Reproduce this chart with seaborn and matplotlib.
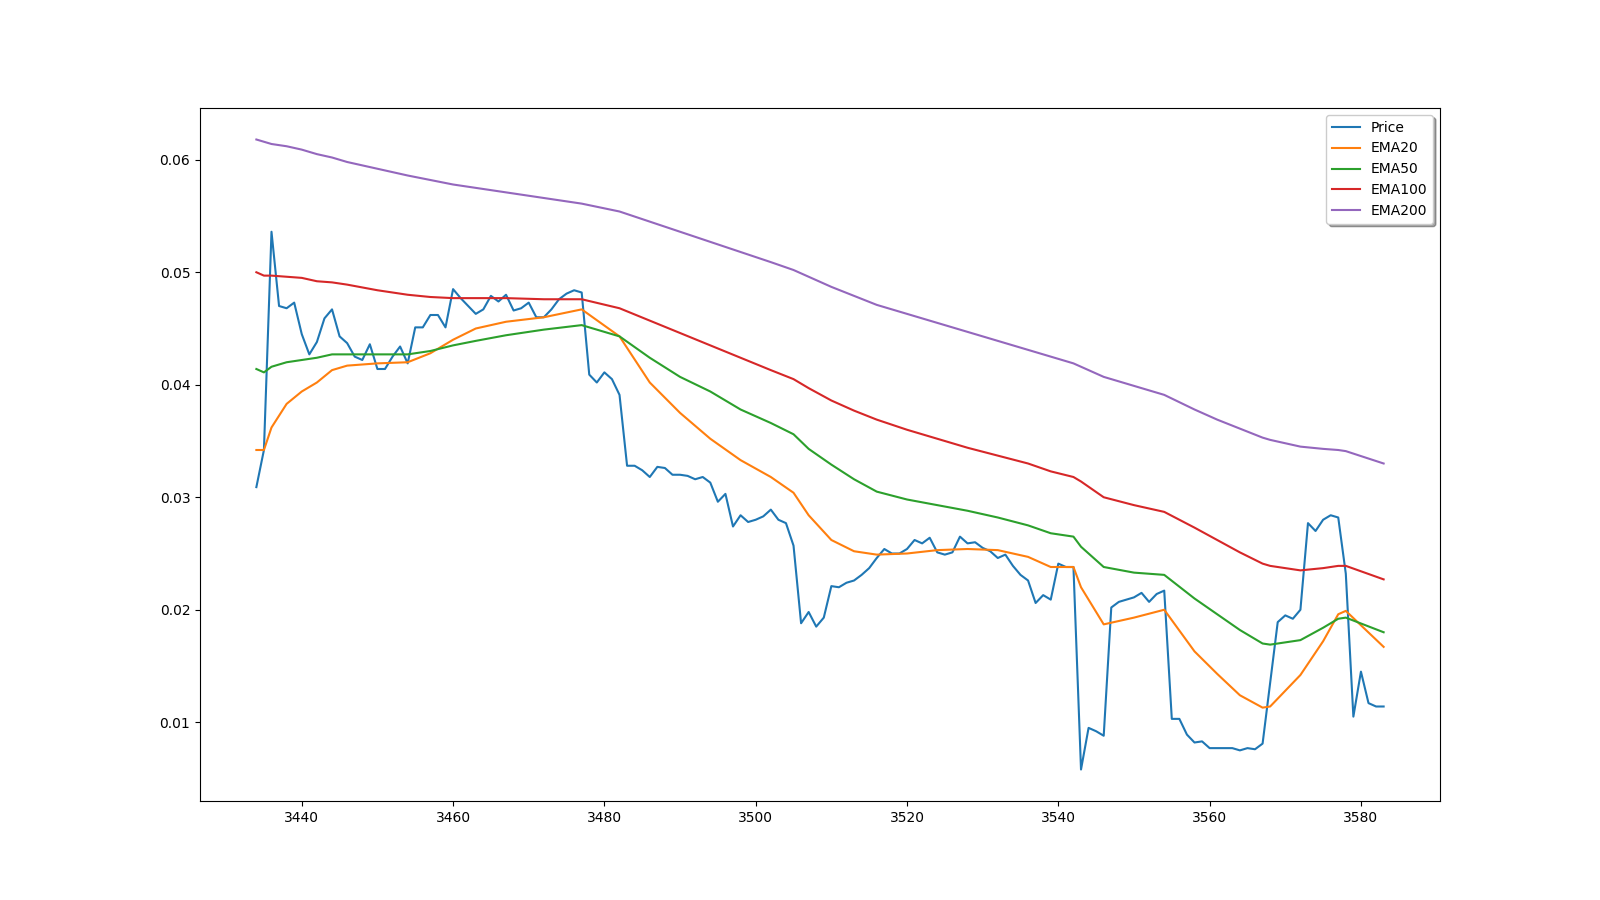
import numpy as np
import pandas as pd
import matplotlib
matplotlib.use("Agg")
import matplotlib.pyplot as plt
import seaborn as sns

# ---- Data ----
price_x = list(range(3434, 3584))
price = [
    0.0309, 0.0342, 0.0536, 0.0470, 0.0468, 0.0473, 0.0445, 0.0427, 0.0438, 0.0459,
    0.0467, 0.0443, 0.0437, 0.0425, 0.0422, 0.0436, 0.0414, 0.0414, 0.0425, 0.0434,
    0.0419, 0.0451, 0.0451, 0.0462, 0.0462, 0.0451, 0.0485, 0.0477, 0.0470, 0.0463,
    0.0467, 0.0479, 0.0474, 0.0480, 0.0466, 0.0468, 0.0473, 0.0460, 0.0460, 0.0467,
    0.0476, 0.0481, 0.0484, 0.0482, 0.0409, 0.0402, 0.0411, 0.0405, 0.0391, 0.0328,
    0.0328, 0.0324, 0.0318, 0.0327, 0.0326, 0.0320, 0.0320, 0.0319, 0.0316, 0.0318,
    0.0313, 0.0296, 0.0303, 0.0274, 0.0284, 0.0278, 0.0280, 0.0283, 0.0289, 0.0280,
    0.0277, 0.0257, 0.0188, 0.0198, 0.0185, 0.0193, 0.0221, 0.0220, 0.0224, 0.0226,
    0.0231, 0.0237, 0.0246, 0.0254, 0.0250, 0.0250, 0.0254, 0.0262, 0.0259, 0.0264,
    0.0251, 0.0249, 0.0251, 0.0265, 0.0259, 0.0260, 0.0255, 0.0252, 0.0246, 0.0249,
    0.0239, 0.0231, 0.0226, 0.0206, 0.0213, 0.0209, 0.0241, 0.0238, 0.0238, 0.0058,
    0.0095, 0.0092, 0.0088, 0.0202, 0.0207, 0.0209, 0.0211, 0.0215, 0.0207, 0.0214,
    0.0217, 0.0103, 0.0103, 0.0089, 0.0082, 0.0083, 0.0077, 0.0077, 0.0077, 0.0077,
    0.0075, 0.0077, 0.0076, 0.0081, 0.0135, 0.0189, 0.0195, 0.0192, 0.0200, 0.0277,
    0.0270, 0.0280, 0.0284, 0.0282, 0.0232, 0.0105, 0.0145, 0.0117, 0.0114, 0.0114,
]

ema_x = [3434, 3435, 3436, 3438, 3440, 3442, 3444, 3446, 3450, 3454, 3457, 3460,
         3463, 3467, 3472, 3477, 3482, 3486, 3490, 3494, 3498, 3502, 3505, 3507,
         3510, 3513, 3516, 3520, 3524, 3528, 3532, 3536, 3539, 3542, 3543, 3546,
         3550, 3554, 3558, 3561, 3564, 3567, 3568, 3572, 3575, 3577, 3578, 3583]

ema20 = [0.0342, 0.0342, 0.0362, 0.0383, 0.0394, 0.0402, 0.0413, 0.0417, 0.0419, 0.0420,
         0.0428, 0.0440, 0.0450, 0.0456, 0.0460, 0.0467, 0.0443, 0.0402, 0.0375, 0.0352,
         0.0333, 0.0318, 0.0304, 0.0284, 0.0262, 0.0252, 0.0249, 0.0250, 0.0253, 0.0254,
         0.0253, 0.0247, 0.0238, 0.0238, 0.0220, 0.0187, 0.0193, 0.0200, 0.0163, 0.0143,
         0.0124, 0.0113, 0.0114, 0.0142, 0.0172, 0.0196, 0.0199, 0.0167]

ema50 = [0.0414, 0.0411, 0.0416, 0.0420, 0.0422, 0.0424, 0.0427, 0.0427, 0.0427, 0.0427,
         0.0430, 0.0435, 0.0439, 0.0444, 0.0449, 0.0453, 0.0443, 0.0424, 0.0407, 0.0394,
         0.0378, 0.0366, 0.0356, 0.0343, 0.0329, 0.0316, 0.0305, 0.0298, 0.0293, 0.0288,
         0.0282, 0.0275, 0.0268, 0.0265, 0.0256, 0.0238, 0.0233, 0.0231, 0.0210, 0.0196,
         0.0182, 0.0170, 0.0169, 0.0173, 0.0184, 0.0192, 0.0193, 0.0180]

ema100 = [0.0500, 0.0497, 0.0497, 0.0496, 0.0495, 0.0492, 0.0491, 0.0489, 0.0484, 0.0480,
          0.0478, 0.0477, 0.0477, 0.0477, 0.0476, 0.0476, 0.0468, 0.0457, 0.0446, 0.0435,
          0.0424, 0.0413, 0.0405, 0.0397, 0.0386, 0.0377, 0.0369, 0.0360, 0.0352, 0.0344,
          0.0337, 0.0330, 0.0323, 0.0318, 0.0314, 0.0300, 0.0293, 0.0287, 0.0273, 0.0262,
          0.0251, 0.0241, 0.0239, 0.0235, 0.0237, 0.0239, 0.0239, 0.0227]

ema200 = [0.0618, 0.0616, 0.0614, 0.0612, 0.0609, 0.0605, 0.0602, 0.0598, 0.0592, 0.0586,
          0.0582, 0.0578, 0.0575, 0.0571, 0.0566, 0.0561, 0.0554, 0.0545, 0.0536, 0.0527,
          0.0518, 0.0509, 0.0502, 0.0496, 0.0487, 0.0479, 0.0471, 0.0463, 0.0455, 0.0447,
          0.0439, 0.0431, 0.0425, 0.0419, 0.0416, 0.0407, 0.0399, 0.0391, 0.0378, 0.0369,
          0.0361, 0.0353, 0.0351, 0.0345, 0.0343, 0.0342, 0.0341, 0.0330]

series_labels = ["Price", "EMA20", "EMA50", "EMA100", "EMA200"]
colors = ["#1f77b4", "#ff7f0e", "#2ca02c", "#d62728", "#9467bd"]

# ---- Plot ----
fig, ax = plt.subplots(figsize=(16, 9), dpi=100)

sns.lineplot(x=price_x, y=price, ax=ax, color=colors[0], label=series_labels[0],
             linewidth=1.5, sort=False)
for lbl, vals, col in zip(series_labels[1:], [ema20, ema50, ema100, ema200], colors[1:]):
    sns.lineplot(x=ema_x, y=vals, ax=ax, color=col, label=lbl, linewidth=1.5, sort=False)

ax.legend(loc="upper right", shadow=True, fontsize=10)
ax.set_xlabel("")
ax.set_ylabel("")

fig.savefig("out.png", dpi=100)
